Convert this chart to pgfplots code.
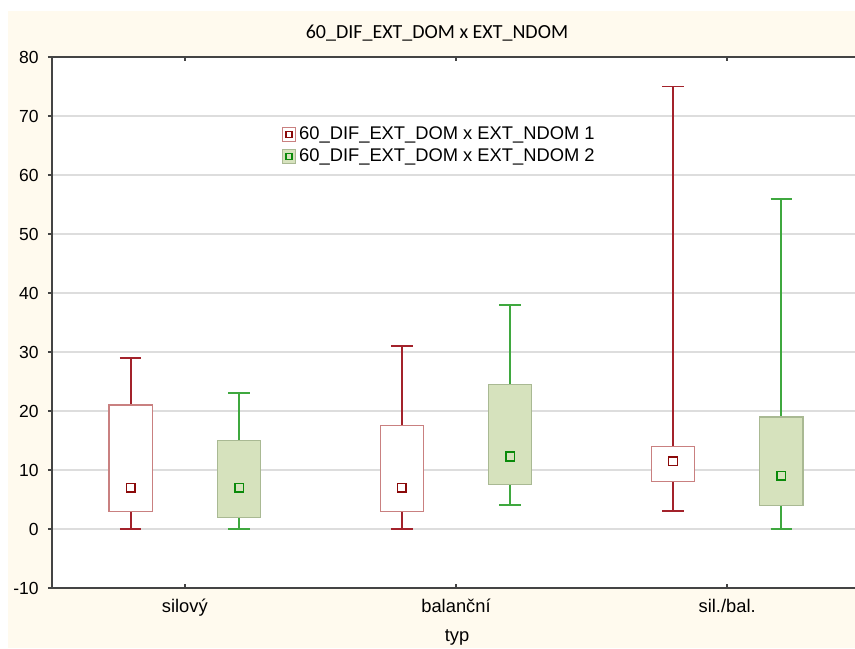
\documentclass[border=0pt]{standalone}
\usepackage{fontspec}
\setmainfont{Liberation Sans}
\newfontfamily\titlefont{Carlito}
\usepackage{pgfplots}
\pgfplotsset{compat=1.18}
\usepgfplotslibrary{statistics}

\definecolor{cream}{HTML}{FFFAEE}
\definecolor{gridgray}{HTML}{DDDDDD}
\definecolor{axisgray}{HTML}{444444}
\definecolor{redwhisk}{HTML}{A3222B}
\definecolor{redbox}{HTML}{C98080}
\definecolor{redmed}{HTML}{8B0A0A}
\definecolor{greenwhisk}{HTML}{3FA83F}
\definecolor{greenfill}{HTML}{D6E2BD}
\definecolor{greenbox}{HTML}{A9B993}
\definecolor{greenmed}{HTML}{0A8A0A}

% box styles for the two series
\pgfplotsset{
  redbp/.style={
    boxplot/draw direction=y,
    boxplot/every box/.style={draw=redbox, fill=white, line width=0.8pt},
    boxplot/every whisker/.style={draw=redwhisk, line width=1.1pt},
    boxplot/every median/.style={draw=none},
  },
  greenbp/.style={
    boxplot/draw direction=y,
    boxplot/every box/.style={draw=greenbox, fill=greenfill, line width=0.8pt},
    boxplot/every whisker/.style={draw=greenwhisk, line width=1.1pt},
    boxplot/every median/.style={draw=none},
  },
}

\begin{document}
\begin{tikzpicture}
\useasboundingbox (0,0) rectangle (513pt,388.8pt);
\clip (0,0) rectangle (513pt,388.8pt);
\fill[cream] (4.8pt,0) rectangle (513pt,382.2pt);
\node[font=\titlefont\fontsize{12}{14}\selectfont] at (262.2pt,369pt) {60\_DIF\_EXT\_DOM x EXT\_NDOM};
\node[font=\fontsize{11}{13}\selectfont] at (274.2pt,6.6pt) {typ};

\begin{axis}[
  at={(31.2pt,36pt)}, anchor=south west,
  width=484.8pt, height=318.6pt, scale only axis,
  axis background/.style={fill=white},
  xmin=-0.49, xmax=2.49, ymin=-10, ymax=80,
  ytick={-10,0,...,80},
  xtick={0,1,2},
  xticklabels={silový, balanční, sil./bal.},
  ymajorgrids, grid style={gridgray, line width=1pt},
  axis line style={axisgray, line width=1.1pt},
  major tick length=2.5pt,
  x tick style={axisgray, line width=0.8pt},
  y tick style={axisgray, line width=0.8pt},
  xtick align=inside, ytick align=outside, ytick pos=left,
  /pgf/number format/assume math mode=true,
  yticklabel style={font=\fontsize{10.5}{12}\selectfont, xshift=-2pt},
  xticklabel style={font=\fontsize{11}{13}\selectfont, yshift=-3pt},
  legend style={at={(0.282,0.878)}, anchor=north west, draw=none, fill=white,
    font=\fontsize{11}{13}\selectfont, row sep=0pt, inner sep=1pt},
  legend cell align=left,
]
% series 1
\addplot[redbp, boxplot prepared={lower whisker=0, lower quartile=3, median=7, upper quartile=21, upper whisker=29, draw position=-0.2, box extend=0.159, whisker extend=0.08}, forget plot] coordinates {};
\addplot[redbp, boxplot prepared={lower whisker=0, lower quartile=3, median=7, upper quartile=17.5, upper whisker=31, draw position=0.8, box extend=0.159, whisker extend=0.08}, forget plot] coordinates {};
\addplot[redbp, boxplot prepared={lower whisker=3, lower quartile=8, median=11.5, upper quartile=14, upper whisker=75, draw position=1.8, box extend=0.159, whisker extend=0.08}, forget plot] coordinates {};
% series 2
\addplot[greenbp, boxplot prepared={lower whisker=0, lower quartile=2, median=7, upper quartile=15, upper whisker=23, draw position=0.2, box extend=0.159, whisker extend=0.08}, forget plot] coordinates {};
\addplot[greenbp, boxplot prepared={lower whisker=4, lower quartile=7.5, median=12.3, upper quartile=24.5, upper whisker=38, draw position=1.2, box extend=0.159, whisker extend=0.08}, forget plot] coordinates {};
\addplot[greenbp, boxplot prepared={lower whisker=0, lower quartile=4, median=9, upper quartile=19, upper whisker=56, draw position=2.2, box extend=0.159, whisker extend=0.08}, forget plot] coordinates {};
% medians
\addplot[only marks, mark=square*, mark size=2.6pt,
  mark options={draw=redmed, fill=white, line width=0.9pt},
  legend image code/.code={
    \draw[draw=redbox, fill=white, line width=0.6pt] (0pt,-4.2pt) rectangle (7.8pt,4.2pt);
    \draw[draw=redmed, fill=white, line width=0.8pt] (2.1pt,-1.8pt) rectangle (5.7pt,1.8pt);}]
  coordinates {(-0.2,7) (0.8,7) (1.8,11.5)};
\addlegendentry{60\_DIF\_EXT\_DOM x EXT\_NDOM 1}
\addplot[only marks, mark=square*, mark size=2.6pt,
  mark options={draw=greenmed, fill=greenfill, line width=0.9pt},
  legend image code/.code={
    \draw[draw=greenbox, fill=greenfill, line width=0.6pt] (0pt,-4.2pt) rectangle (7.8pt,4.2pt);
    \draw[draw=greenmed, fill=greenfill, line width=0.8pt] (2.1pt,-1.8pt) rectangle (5.7pt,1.8pt);}]
  coordinates {(0.2,7) (1.2,12.3) (2.2,9)};
\addlegendentry{60\_DIF\_EXT\_DOM x EXT\_NDOM 2}
\end{axis}
\end{tikzpicture}
\end{document}
